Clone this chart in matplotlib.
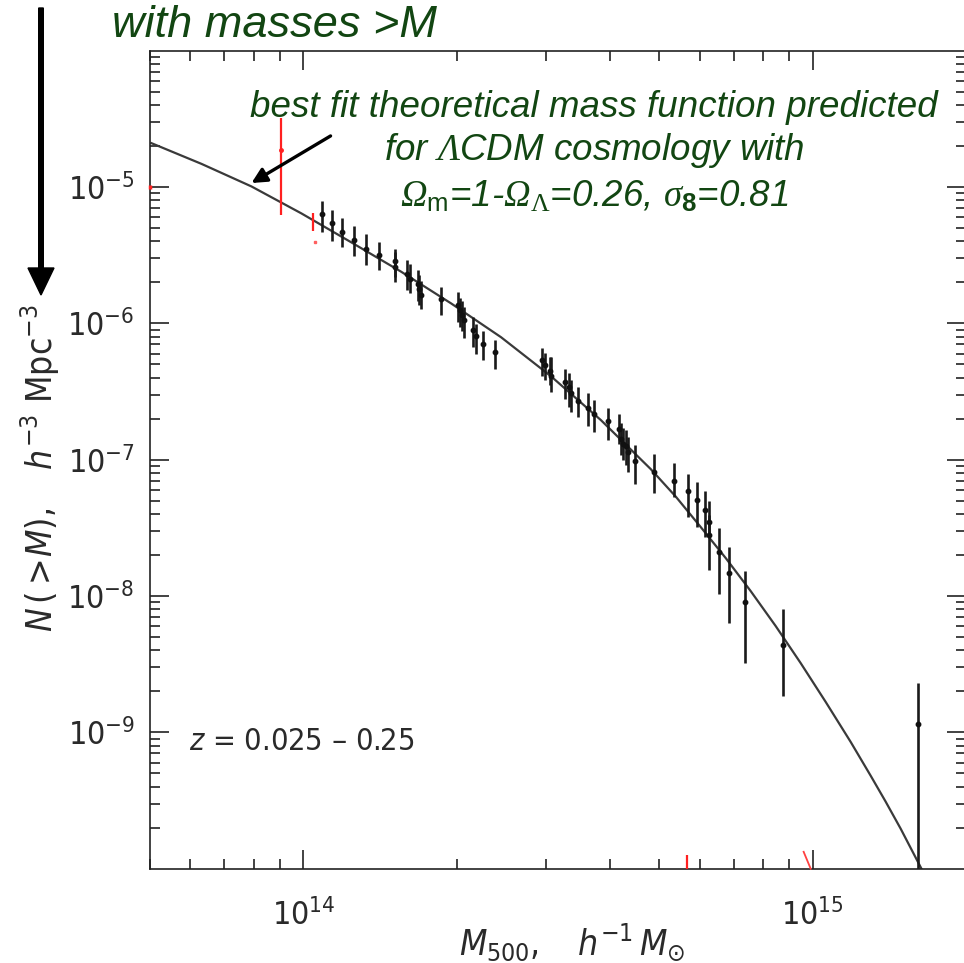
import numpy as np
import matplotlib
matplotlib.use("Agg")
import matplotlib.pyplot as plt
from matplotlib.ticker import LogLocator, NullFormatter, FixedLocator, FixedFormatter

plt.rcParams['font.family'] = ['DejaVu Sans']
plt.rcParams['font.stretch'] = 'condensed'
# custom math fonts for the green cosmology caption
plt.rcParams['mathtext.fontset'] = 'custom'
plt.rcParams['mathtext.rm'] = 'Liberation Serif:italic'
plt.rcParams['mathtext.it'] = 'Liberation Serif:italic'
plt.rcParams['mathtext.cal'] = 'Liberation Serif'
plt.rcParams['mathtext.sf'] = 'Liberation Sans'
plt.rcParams['mathtext.bf'] = 'Liberation Sans:bold'

# ---- best-fit theoretical cumulative mass function (mass in 1e14 h^-1 Msun) ----
curve_mass = [0.503, 0.631, 0.791, 0.991, 1.242, 1.557, 1.951, 2.445, 3.064, 3.84,
              4.811, 5.388, 6.031, 6.752, 7.558, 8.461, 9.473, 10.605, 11.872, 12.993,
              13.904, 14.880, 16.363, 17.041]
curve_N = [2.10e-5, 1.479e-5, 1.01e-5, 6.41e-6, 3.93e-6, 2.39e-6, 1.40e-6, 7.91e-7,
           4.09e-7, 1.95e-7, 8.52e-8, 5.35e-8, 3.20e-8, 1.896e-8, 1.086e-8, 6.02e-9,
           3.22e-9, 1.673e-9, 8.52e-10, 4.82e-10, 3.11e-10, 1.97e-10, 9.95e-11, 7.22e-11]

# ---- observed cluster counts N(>M) with 1-sigma ranges ----
obs_mass = [1.090, 1.138, 1.191, 1.255, 1.327, 1.405, 1.515, 1.515, 1.597, 1.621,
            1.677, 1.688, 1.700, 1.865, 2.011, 2.035, 2.048, 2.063, 2.152, 2.184,
            2.252, 2.380, 2.942, 2.986, 3.055, 3.064, 3.264, 3.328, 3.354, 3.457,
            3.616, 3.715, 3.958, 4.170, 4.203, 4.241, 4.298, 4.332, 4.483, 4.885,
            5.333, 5.695, 5.923, 6.150, 6.268, 6.268, 6.551, 6.854, 7.356, 8.744,
            16.09]
obs_N = [6.31e-6, 5.45e-6, 4.68e-6, 4.07e-6, 3.54e-6, 3.19e-6, 2.85e-6, 2.59e-6, 2.32e-6, 2.13e-6,
         1.95e-6, 1.78e-6, 1.61e-6, 1.52e-6, 1.36e-6, 1.25e-6, 1.15e-6, 1.05e-6, 9.01e-7, 8.04e-7,
         7.03e-7, 6.17e-7, 5.43e-7, 4.93e-7, 4.48e-7, 4.09e-7, 3.72e-7, 3.42e-7, 3.09e-7, 2.70e-7,
         2.40e-7, 2.16e-7, 1.92e-7, 1.69e-7, 1.43e-7, 1.30e-7, 1.26e-7, 1.14e-7, 9.80e-8, 8.14e-8,
         6.96e-8, 5.90e-8, 5.05e-8, 4.26e-8, 3.50e-8, 2.80e-8, 2.11e-8, 1.48e-8, 9.07e-9, 4.37e-9,
         1.15e-9]
obs_lo = [4.68e-6, 4.00e-6, 3.63e-6, 3.12e-6, 2.70e-6, 2.45e-6, 2.17e-6, 2.00e-6, 1.77e-6, 1.66e-6,
          1.45e-6, 1.36e-6, 1.27e-6, 1.15e-6, 1.02e-6, 9.41e-7, 8.75e-7, 7.77e-7, 6.71e-7, 6.01e-7,
          5.36e-7, 4.66e-7, 4.09e-7, 3.83e-7, 3.52e-7, 3.14e-7, 2.81e-7, 2.44e-7, 2.24e-7, 2.04e-7,
          1.76e-7, 1.60e-7, 1.39e-7, 1.31e-7, 1.08e-7, 9.92e-8, 9.12e-8, 8.10e-8, 6.69e-8, 5.71e-8,
          5.34e-8, 3.81e-8, 3.22e-8, 2.70e-8, 2.72e-8, 1.55e-8, 1.04e-8, 6.36e-9, 3.20e-9, 1.85e-9,
          1.0e-11]
obs_hi = [7.90e-6, 6.75e-6, 5.93e-6, 5.18e-6, 4.55e-6, 3.95e-6, 3.54e-6, 3.32e-6, 2.94e-6, 2.71e-6,
          2.45e-6, 2.25e-6, 2.04e-6, 1.85e-6, 1.70e-6, 1.53e-6, 1.45e-6, 1.32e-6, 1.11e-6, 9.97e-7,
          8.79e-7, 7.52e-7, 6.65e-7, 6.07e-7, 5.64e-7, 5.62e-7, 4.66e-7, 4.29e-7, 3.83e-7, 3.42e-7,
          3.09e-7, 2.76e-7, 2.41e-7, 2.16e-7, 1.85e-7, 1.70e-7, 1.65e-7, 1.46e-7, 1.28e-7, 1.11e-7,
          9.38e-8, 7.92e-8, 6.88e-8, 5.90e-8, 4.99e-8, 3.92e-8, 3.13e-8, 2.29e-8, 1.53e-8, 7.98e-9,
          2.31e-9]

# ---- red points (other subsample) ----
red_mass = [0.9026, 1.0448, 5.674]
red_N = [1.86e-5, 5.54e-6, 3.0e-11]
red_lo = [6.20e-6, 4.76e-6, 1.0e-11]
red_hi = [3.21e-5, 6.45e-6, 1.26e-10]
red_dot_mass = [1.0557]
red_dot_N = [3.95e-6]
red_edge_N = [9.9e-6]
red_edge_lo = [9.6e-6]
red_edge_hi = [1.03e-5]
red_seg_mass = [9.60, 9.91]
red_seg_N = [1.33e-10, 1.0e-10]

yticks = [1e-9, 1e-8, 1e-7, 1e-6, 1e-5]
ytick_labels = [r'$\mathregular{10^{-9}}$', r'$\mathregular{10^{-8}}$', r'$\mathregular{10^{-7}}$',
                r'$\mathregular{10^{-6}}$', r'$\mathregular{10^{-5}}$']
xticks = [1e14, 1e15]
xtick_labels = [r'$\mathregular{10^{14}}$', r'$\mathregular{10^{15}}$']

W, H = 964, 963
fig = plt.figure(figsize=(W / 100, H / 100), dpi=100)
ax = fig.add_axes([150 / W, (H - 868.7) / H, 816 / W, 818 / H])
ax.set_xscale('log')
ax.set_yscale('log')
ax.set_xlim(5e13, 2e15)
ax.set_ylim(1e-10, 1e-4)

cm = np.array(curve_mass) * 1e14
ax.plot(cm, curve_N, color='#3a3a3a', lw=1.6, zorder=2, solid_joinstyle='round')

om = np.array(obs_mass) * 1e14
on = np.array(obs_N)
yerr = [on - np.array(obs_lo), np.array(obs_hi) - on]
ax.errorbar(om, on, yerr=yerr, fmt='o', ms=3.2, color='#111111', ecolor='#1a1a1a',
            elinewidth=1.9, capsize=0, zorder=3)

rm = np.array(red_mass) * 1e14
rn = np.array(red_N)
ryerr = [rn - np.array(red_lo), np.array(red_hi) - rn]
ax.errorbar(rm[:1], rn[:1], yerr=[ryerr[0][:1], ryerr[1][:1]], fmt='o', ms=2.5,
            color='#ff2020', ecolor='#ff2020', elinewidth=1.6, capsize=0, zorder=3)
ax.errorbar(rm[1:], rn[1:], yerr=[ryerr[0][1:], ryerr[1][1:]], fmt='none',
            ecolor='#ff2020', elinewidth=1.6, capsize=0, zorder=3)
ax.plot(np.array(red_dot_mass) * 1e14, red_dot_N, 's', ms=1.5, color='#ff6060', zorder=3)
en = np.array(red_edge_N)
ax.errorbar([5e13], en, yerr=[en - np.array(red_edge_lo), np.array(red_edge_hi) - en],
            fmt='none', ecolor='#ff2020', elinewidth=2.5, capsize=0, zorder=4, clip_on=False)
ax.plot(np.array(red_seg_mass) * 1e14, red_seg_N, color='#ff4040', lw=1.3, zorder=3,
        clip_on=False)

# axes styling: inward ticks on all four sides
for s in ax.spines.values():
    s.set_linewidth(1.2)
    s.set_color('#222222')
ax.yaxis.set_major_locator(FixedLocator(yticks))
ax.yaxis.set_major_formatter(FixedFormatter(ytick_labels))
ax.yaxis.set_minor_locator(LogLocator(base=10, subs=np.arange(2, 10), numticks=20))
ax.yaxis.set_minor_formatter(NullFormatter())
ax.xaxis.set_major_locator(FixedLocator(xticks))
ax.xaxis.set_major_formatter(FixedFormatter(xtick_labels))
ax.xaxis.set_minor_locator(LogLocator(base=10, subs=np.arange(2, 10), numticks=20))
ax.xaxis.set_minor_formatter(NullFormatter())
ax.tick_params(which='both', direction='in', top=True, right=True, color='#222222')
ax.tick_params(which='major', length=14, width=1.2, labelsize=23, labelcolor='#2a2a2a')
ax.tick_params(which='minor', length=7.5, width=1.2)
ax.tick_params(axis='y', which='major', pad=11)
ax.tick_params(axis='x', which='major', pad=22)

ax.text(5.97e13, 8.6e-10, r'$\mathit{z}$ = 0.025 – 0.25', fontsize=22,
        color='#2a2a2a', va='center', ha='left', math_fontfamily='dejavusans')

# axis titles
fig.text(40 / W, 1 - 468 / H,
         r'$\mathit{N}\,(>\!\mathit{M}),\ \ \ \mathit{h}^{-3}\ \mathrm{Mpc}^{-3}$',
         rotation=90, ha='center', va='center', fontsize=25.5, color='#2a2a2a',
         math_fontfamily='dejavusans')
fig.text(572 / W, 1 - 942 / H,
         r'$\mathit{M}_{500},\ \ \ \mathit{h}^{-1}\,\mathit{M}_{\odot}$',
         ha='center', va='center', fontsize=25.5, color='#2a2a2a',
         math_fontfamily='dejavusans')

# green annotations
green = '#124612'
fig.text(112 / W, 1 - 37 / H, 'with masses >M', fontsize=32.5, style='italic',
         family='Liberation Sans', stretch='normal', color=green, ha='left', va='baseline')
cx = 594 / W
fig.text(cx, 1 - 116.7 / H, 'best fit theoretical mass function predicted', fontsize=26.5,
         style='italic', family='Liberation Sans', stretch='normal', color=green,
         ha='center', va='baseline')
fig.text(cx, 1 - 160 / H, r'for $\Lambda$CDM cosmology with', fontsize=26.5,
         style='italic', family='Liberation Sans', stretch='normal', color=green,
         ha='center', va='baseline', math_fontfamily='custom')
fig.text(cx, 1 - 206.7 / H,
         r'$\Omega_{\mathsf{m}}$=1-$\Omega_{\mathcal{\Lambda}}$=0.26, $\sigma_{\mathbf{8}}$=0.81',
         fontsize=26.5, style='italic', family='Liberation Sans', stretch='normal', color=green,
         ha='center', va='baseline', math_fontfamily='custom')

# pointer to the theoretical curve
ax.annotate('', xy=(0.791e14, 1.07e-5), xytext=(1.131e14, 2.37e-5),
            arrowprops=dict(arrowstyle='-|>,head_length=0.9,head_width=0.45', lw=2.4,
                            color='black', shrinkA=0, shrinkB=0))

# big downward arrow on the left
fig.patches.append(matplotlib.patches.FancyArrow(
    41 / W, 1 - 8 / H, 0, -(287 - 27) / H, width=4.6 / W, head_width=26 / W,
    head_length=27 / H, length_includes_head=False, color='black',
    transform=fig.transFigure, figure=fig))

fig.savefig('out.png', dpi=100)
